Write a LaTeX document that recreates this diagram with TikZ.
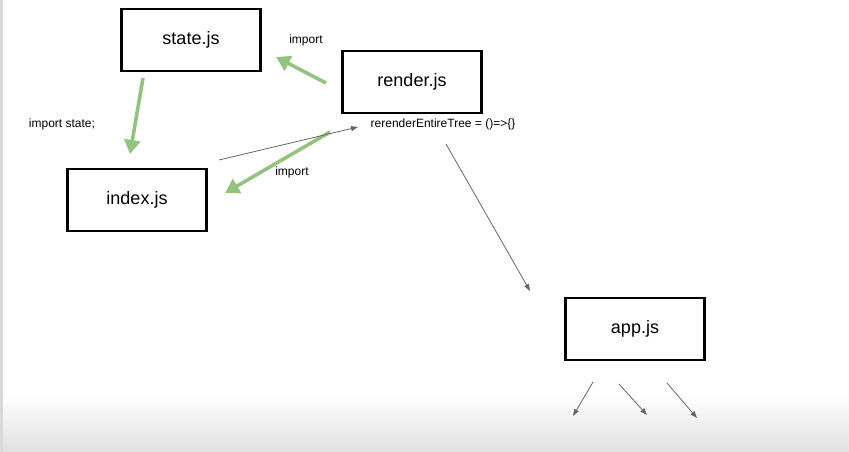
\documentclass[tikz,border=0pt]{standalone}
\usepackage{fontspec}
\setmainfont{Liberation Sans}
\usepackage{xcolor}
\usepackage{tikz}
\usetikzlibrary{arrows.meta,positioning,calc}
\definecolor{importgreen}{HTML}{93C47D}
\definecolor{callgray}{HTML}{666666}

\begin{document}
\begin{tikzpicture}[x=1pt,y=-1pt,
    file/.style={draw,line width=2.2pt,minimum width=139pt,minimum height=62pt,font=\fontsize{18}{20}\selectfont},
    note/.style={font=\fontsize{12}{14}\selectfont},
    imp/.style={importgreen,line width=3.6pt,-{Triangle[length=14pt,width=16pt]}},
    call/.style={callgray,line width=0.8pt,-{Triangle[length=7pt,width=5pt]}}]
    \useasboundingbox (0,0) rectangle (849,452);
    % Background of the screen
    \fill[white] (0,0) rectangle (849,452);
    \shade[top color=white,bottom color=black!12] (0,395) rectangle (849,452);
    \fill[black!15] (0,0) rectangle (3,452);

    % Files
    \node[file] (state) at (191,40) {state.js};
    \node[file] (render) at (412,82) {render.js};
    \node[file] (index) at (137,200) {index.js};
    \node[file] (app) at (635,329) {app.js};

    % Labels
    \node[note] (impstate) at (62,124) {import state;};
    \node[note] (imptop) at (306,40) {import};
    \node[note] (impbot) at (292,172) {import};
    \node[note] (rerender) at (443,124) {rerenderEntireTree = ()=>\{\}};

    % Imports
    \coordinate (s1) at (326,83);
    \coordinate (s2) at (143,78);
    \coordinate (s3) at (330,132);
    \coordinate (t1) at (276,57);
    \coordinate (t2) at (130,154);
    \coordinate (t3) at (225,193);
    \draw[imp] (s1) -- (t1);
    \draw[imp] (s2) -- (t2);
    \draw[imp] (s3) -- (t3);

    % Calls
    \coordinate (c1) at (219,160);
    \coordinate (c2) at (358,127);
    \coordinate (c3) at (446,144);
    \coordinate (c4) at (530,291);
    \draw[call] (c1) -- (c2);
    \draw[call] (c3) -- (c4);

    % Children of app.js
    \coordinate (a1) at (593,382);
    \coordinate (b1) at (573,416);
    \coordinate (a2) at (619,384);
    \coordinate (b2) at (647,415);
    \coordinate (a3) at (667,383);
    \coordinate (b3) at (697,418);
    \draw[call] (a1) -- (b1);
    \draw[call] (a2) -- (b2);
    \draw[call] (a3) -- (b3);
\end{tikzpicture}
\end{document}
